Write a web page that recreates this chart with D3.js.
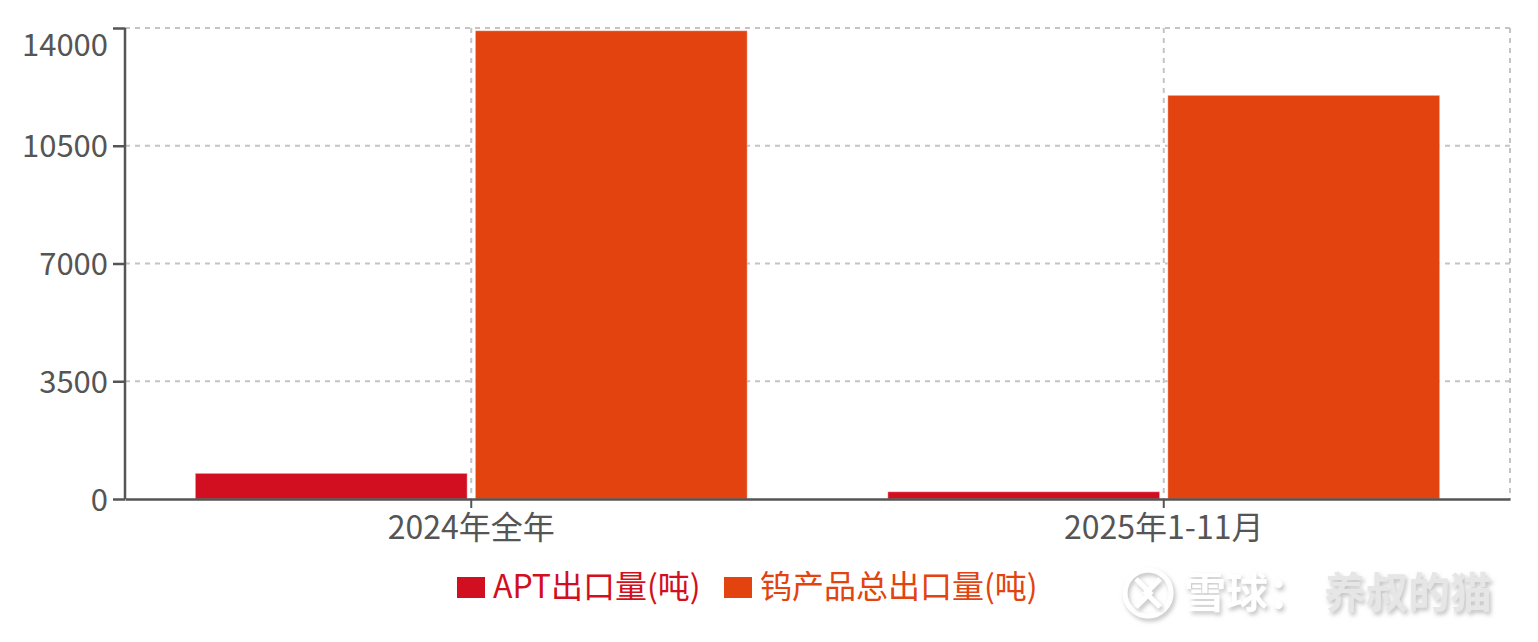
<!DOCTYPE html>
<html>
<head>
<meta charset="utf-8">
<script src="https://cdn.jsdelivr.net/npm/d3@7"></script>
<style>
  body { margin: 0; background: #fff; }
  text { font-family: "Noto Sans CJK SC", "Noto Sans", sans-serif; }
</style>
</head>
<body>
<div id="chart"></div>
<script>
// data
var categories = ["2024年全年", "2025年1-11月"];
var seriesNames = ["APT出口量(吨)", "钨产品总出口量(吨)"];
var aptValues = [764, 217];
var tungstenValues = [13920, 12000];
var yTicks = [0, 3500, 7000, 10500, 14000];
var colors = ["#d20f20", "#e2430f"];

var W = 1538, H = 642;
var margin = {top: 28, right: 28, bottom: 143, left: 125},
    width = W - margin.left - margin.right,
    height = H - margin.top - margin.bottom;

var svg = d3.select("#chart").append("svg")
    .attr("width", W)
    .attr("height", H);

var g = svg.append("g")
    .attr("transform", "translate(" + margin.left + "," + margin.top + ")");

var x = d3.scaleBand().domain(categories).range([0, width]).paddingInner(0).paddingOuter(0);
var x1 = d3.scaleBand().domain(seriesNames).range([0, x.bandwidth()]).paddingInner(0.029).paddingOuter(0.251);
var y = d3.scaleLinear().domain([0, 14000]).range([height, 0]);

var gridColor = "#c4c4c4";
var axisColor = "#555";

// horizontal grid
g.append("g").selectAll("line")
  .data(yTicks.filter(function(d) { return d > 0; }))
  .enter().append("line")
    .attr("x1", 0).attr("x2", width)
    .attr("y1", function(d) { return y(d); })
    .attr("y2", function(d) { return y(d); })
    .attr("stroke", gridColor)
    .attr("stroke-width", 2)
    .attr("stroke-dasharray", "5,5");

// vertical grid at category centres and right edge
var vx = categories.map(function(c) { return x(c) + x.bandwidth() / 2; }).concat([width]);
g.append("g").selectAll("line")
  .data(vx)
  .enter().append("line")
    .attr("x1", function(d) { return d; }).attr("x2", function(d) { return d; })
    .attr("y1", 0).attr("y2", height)
    .attr("stroke", gridColor)
    .attr("stroke-width", 2)
    .attr("stroke-dasharray", "5,5");

// bars
var rows = categories.map(function(c, i) {
  return {cat: c, vals: [aptValues[i], tungstenValues[i]]};
});

var groups = g.append("g").selectAll("g")
  .data(rows)
  .enter().append("g")
    .attr("transform", function(d) { return "translate(" + x(d.cat) + ",0)"; });

groups.selectAll("rect")
  .data(function(d) { return d.vals.map(function(v, j) { return {name: seriesNames[j], v: v, j: j}; }); })
  .enter().append("rect")
    .attr("x", function(d) { return x1(d.name); })
    .attr("width", x1.bandwidth())
    .attr("y", function(d) { return y(d.v); })
    .attr("height", function(d) { return height - y(d.v); })
    .attr("fill", function(d) { return colors[d.j]; })
    .attr("stroke", "rgba(255,255,255,0.45)")
    .attr("stroke-width", 1);

// y axis
var yAxis = d3.axisLeft(y).tickValues(yTicks).tickSize(12).tickPadding(5).tickFormat(d3.format("d"));
var ya = g.append("g").call(yAxis);
ya.select(".domain").attr("stroke", axisColor).attr("stroke-width", 2.5).attr("d", "M0," + height + "V0");
ya.selectAll(".tick line").attr("stroke", axisColor).attr("stroke-width", 2.5);
ya.selectAll(".tick text")
  .attr("fill", "#555")
  .attr("font-size", 31)
  .attr("dy", function(d) { return d === 14000 ? "0.95em" : "0.36em"; })
  .attr("y", function(d) { return d === 14000 ? -2 : 0; });

// x axis
var xAxis = d3.axisBottom(x).tickSize(9).tickPadding(8).tickSizeOuter(0);
var xa = g.append("g").attr("transform", "translate(0," + height + ")").call(xAxis);
xa.select(".domain").attr("stroke", axisColor).attr("stroke-width", 2.5);
xa.selectAll(".tick line").attr("stroke", axisColor).attr("stroke-width", 2);
xa.selectAll(".tick text").attr("fill", "#555").attr("font-size", 32);

// legend
var legend = svg.append("g").attr("transform", "translate(457,587)");
var lx = [0, 267];
seriesNames.forEach(function(s, i) {
  var lg = legend.append("g").attr("transform", "translate(" + lx[i] + ",0)");
  lg.append("rect").attr("x", 0).attr("y", -10).attr("width", 28).attr("height", 21).attr("fill", colors[i]);
  lg.append("text").attr("x", 36).attr("y", 0).attr("dy", "0.35em")
    .attr("font-size", 32).attr("fill", colors[i]).text(s);
});

// watermark
var wm = svg.append("g").attr("transform", "translate(1148,593)");
var defs = svg.append("defs");
var f = defs.append("filter").attr("id", "sh").attr("x", "-20%").attr("y", "-20%").attr("width", "140%").attr("height", "140%");
f.append("feDropShadow").attr("dx", 2).attr("dy", 3).attr("stdDeviation", 2).attr("flood-color", "#999").attr("flood-opacity", 0.6);
wm.append("circle").attr("r", 23).attr("fill", "none").attr("stroke", "#fff").attr("stroke-width", 5).attr("filter", "url(#sh)");
wm.append("path").attr("d", "M-12,-14 L2,0 L-12,14 M12,-14 L-2,0 L12,14")
  .attr("fill", "none").attr("stroke", "#fff").attr("stroke-width", 5).attr("filter", "url(#sh)");
wm.append("text").attr("x", 36).attr("y", 0).attr("dy", "0.36em").attr("font-size", 42)
  .attr("font-weight", "bold").attr("fill", "#fff").attr("filter", "url(#sh)").text("雪球：");
wm.append("text").attr("x", 176).attr("y", 0).attr("dy", "0.36em").attr("font-size", 42)
  .attr("font-weight", "bold").attr("fill", "#e6e6e6").attr("filter", "url(#sh)").text("养叔的猫");
</script>
</body>
</html>
